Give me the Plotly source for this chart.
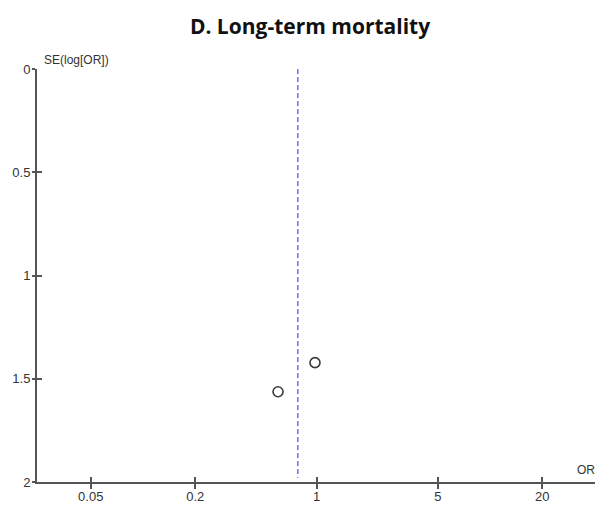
import plotly.graph_objects as go

# Data
study_or = [0.60, 0.98]
study_se = [1.563, 1.422]
pooled_or = 0.78
pooled_se_span = [0.0, 1.98]

x_tickvals = [0.05, 0.2, 1, 5, 20]
x_ticktext = ["0.05", "0.2", "1", "5", "20"]
y_tickvals = [0, 0.5, 1, 1.5, 2]
y_ticktext = ["0", "0.5", "1", "1.5", "2"]

title_text = "D. Long-term mortality"
y_title = "SE(log[OR])"
x_title = "OR"

# the page body adds an 8px offset; the figure is sized to fill the rest
W, H = 605, 499

tick_font = dict(family="Liberation Sans Narrow, Liberation Sans, Arial, sans-serif",
                 size=13, color="#333333")
axis_color = "#555555"

fig = go.Figure()

fig.add_trace(go.Scatter(
    x=[pooled_or, pooled_or], y=pooled_se_span, mode="lines",
    line=dict(color="#7070f0", width=1.5, dash="5px,3px"),
    hoverinfo="skip", showlegend=False,
))

fig.add_trace(go.Scatter(
    x=study_or, y=study_se, mode="markers",
    marker=dict(symbol="circle-open", size=10, color="#3a3a3a", line=dict(width=1.6)),
    showlegend=False,
))

xrange = [-1.611, 1.605]
yrange = [2, 0]

fig.update_layout(
    width=W, height=H,
    margin=dict(l=29, r=18, t=61, b=25, autoexpand=False),
    paper_bgcolor="white", plot_bgcolor="white",
    title=dict(text="<b>" + title_text + "</b>", x=302 / W, xref="container",
               y=1 - 19 / H, yref="container", xanchor="center", yanchor="middle",
               font=dict(family="Open Sans, sans-serif", size=21, color="#111111")),
    xaxis=dict(type="log", range=xrange, tickvals=x_tickvals, ticktext=x_ticktext,
               showgrid=False, zeroline=False, showline=True, linecolor=axis_color,
               linewidth=2, ticks="outside", ticklen=5, tickwidth=1.5, automargin=False,
               ticklabelstandoff=-4,
               tickcolor=axis_color, tickfont=tick_font),
    yaxis=dict(range=yrange, tickvals=y_tickvals, ticktext=y_ticktext,
               showgrid=False, zeroline=False, showline=True, linecolor=axis_color,
               linewidth=2, ticks="outside", ticklen=3, tickwidth=1.5, automargin=False,
               ticklabelstandoff=-1,
               tickcolor=axis_color, tickfont=tick_font),
    xaxis2=dict(type="log", range=xrange, tickvals=x_tickvals, overlaying="x",
                showticklabels=False, showgrid=False, zeroline=False, showline=False,
                ticks="inside", ticklen=5, tickwidth=1.5, tickcolor=axis_color,
                side="bottom", anchor="y", automargin=False),
    yaxis2=dict(range=yrange, tickvals=y_tickvals, overlaying="y",
                showticklabels=False, showgrid=False, zeroline=False, showline=False,
                ticks="inside", ticklen=5, tickwidth=1.5, tickcolor=axis_color,
                side="left", anchor="x", automargin=False),
    annotations=[
        dict(text=y_title, xref="paper", yref="paper", x=0, y=1, xshift=5, yshift=0,
             xanchor="left", yanchor="bottom", showarrow=False,
             font=dict(family="Liberation Sans Narrow, Liberation Sans, Arial, sans-serif",
                       size=12, color="#333333")),
        dict(text=x_title, xref="paper", yref="paper", x=1, y=0, xshift=2, yshift=3,
             xanchor="right", yanchor="bottom", showarrow=False,
             font=dict(family="Liberation Sans Narrow, Liberation Sans, Arial, sans-serif",
                       size=12, color="#333333")),
    ],
)

# invisible trace to activate the secondary (inside-tick) axes
fig.add_trace(go.Scatter(x=[pooled_or], y=[pooled_se_span[0]], xaxis="x2", yaxis="y2",
                         mode="markers", marker=dict(opacity=0), hoverinfo="skip",
                         showlegend=False))

fig.write_html("out.html")
